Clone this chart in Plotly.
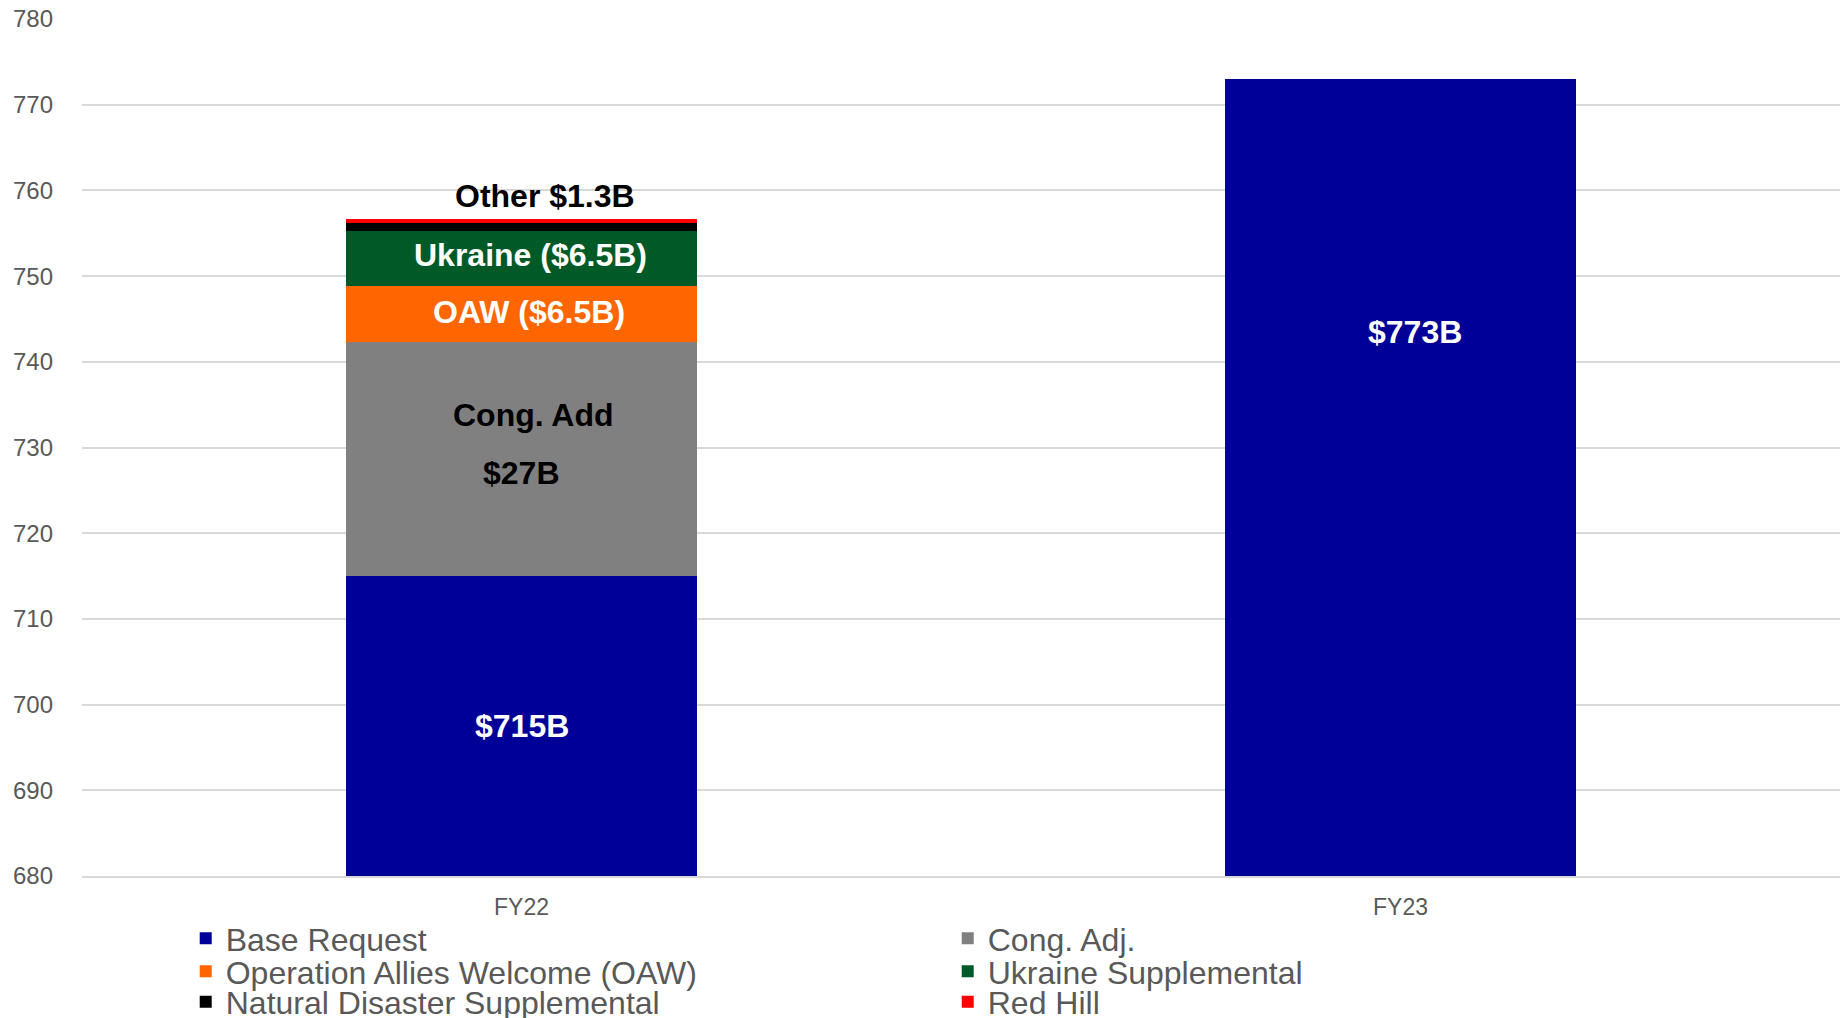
import plotly.graph_objects as go

categories = ["FY22", "FY23"]
series_names = ["Base Request", "Cong. Adj.", "Operation Allies Welcome (OAW)",
                "Ukraine Supplemental", "Natural Disaster Supplemental", "Red Hill"]
base_request = [715, 773]
cong_adj = [27.3, None]
oaw = [6.55, None]
ukraine = [6.4, None]
natural_disaster = [0.9, None]
red_hill = [0.5, None]
colors = ["#000099", "#808080", "#FF6600", "#005A28", "#000000", "#FF0000"]
y_ticks = [680, 690, 700, 710, 720, 730, 740, 750, 760, 770, 780]

series = [base_request, cong_adj, oaw, ukraine, natural_disaster, red_hill]
legend_ids = ["legend", "legend", "legend2", "legend2", "legend3", "legend3"]

FONT = "Liberation Sans, Arial, sans-serif"

fig = go.Figure()
for name, vals, col, lg in zip(series_names, series, colors, legend_ids):
    fig.add_trace(go.Bar(
        x=categories, y=vals, name=name, legend=lg,
        marker=dict(color=col, line=dict(width=0)),
        hoverinfo="skip",
    ))

# labels (text, category, y in data units, x pixel shift, colour)
labels = [
    ("$715B", "FY22", (680 + base_request[0]) / 2, 0, "white"),
    ("Cong. Add", "FY22", 733.8, 12, "black"),
    ("$27B", "FY22", 727.0, 0, "black"),
    ("OAW ($6.5B)", "FY22", base_request[0] + cong_adj[0] + oaw[0] / 2 + 0.25, 7, "white"),
    ("Ukraine ($6.5B)", "FY22", base_request[0] + cong_adj[0] + oaw[0] + ukraine[0] / 2 + 0.4, 9, "white"),
    ("Other $1.3B", "FY22", 759.3, 23, "black"),
    ("$773B", "FY23", 743.5, 14, "white"),
]
for txt, cat, yv, xs, col in labels:
    fig.add_annotation(x=cat, y=yv, text=f"<b>{txt}</b>", showarrow=False,
                       xshift=xs, font=dict(family=FONT, size=32, color=col))


def legend_row(ypos):
    return dict(
        orientation="h", x=0.059, xanchor="left", y=ypos, yanchor="top",
        entrywidth=717, entrywidthmode="pixels",
        font=dict(family=FONT, size=32, color="#595959"),
        traceorder="normal", bgcolor="rgba(0,0,0,0)",
        itemclick=False, itemdoubleclick=False,
    )


fig.update_layout(
    barmode="stack",
    bargap=0.6,
    width=1844, height=1018,
    margin=dict(l=82, r=4, t=19, b=142, autoexpand=False),
    paper_bgcolor="white", plot_bgcolor="white",
    font=dict(family=FONT, color="#595959"),
    showlegend=True,
    legend=legend_row(-0.0408),
    legend2=legend_row(-0.0793),
    legend3=legend_row(-0.1150),
    xaxis=dict(
        tickfont=dict(family=FONT, size=23, color="#595959"),
        showgrid=False, showline=True, linecolor="#d9d9d9", linewidth=2,
        ticks="", ticklabelstandoff=9,
    ),
    yaxis=dict(
        range=[680, 780], tickvals=y_ticks,
        tickfont=dict(family=FONT, size=24, color="#595959"),
        showgrid=True, gridcolor="#d9d9d9", gridwidth=2,
        zeroline=False, showline=False, ticks="", ticklabelstandoff=28,
    ),
)

fig.write_html("out.html")
